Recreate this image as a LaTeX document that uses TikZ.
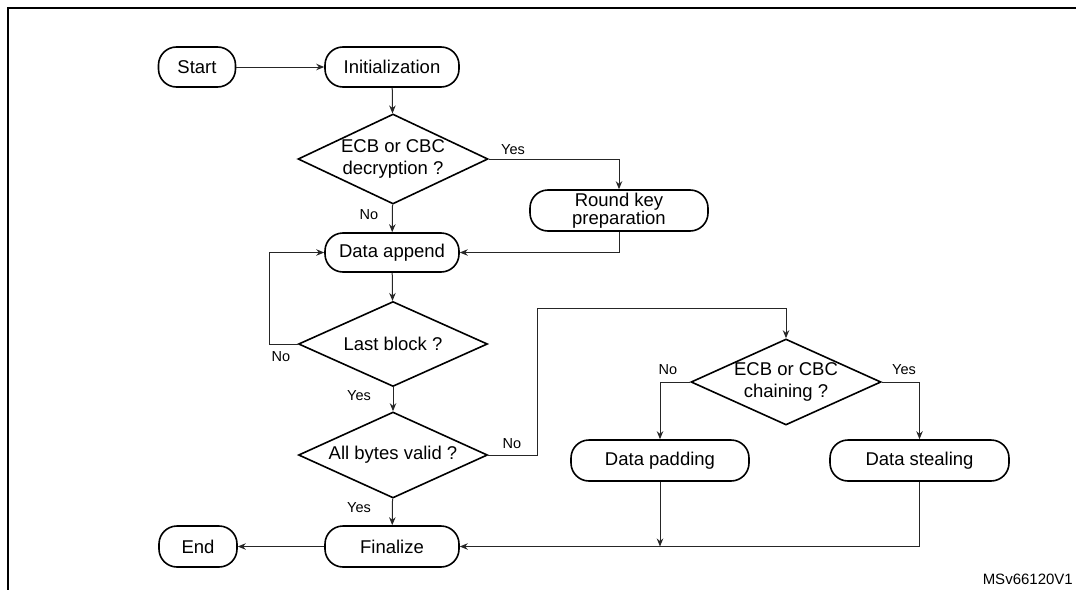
\documentclass[tikz,border=0pt]{standalone}
\usepackage{fontspec}
\setmainfont{Liberation Sans}
\usetikzlibrary{shapes.geometric,arrows.meta}
\tikzset{
  box/.style={draw=black, line width=1.6pt, rounded corners=18pt, inner sep=0pt,
    align=center, font=\fontsize{18.5}{16.5}\selectfont},
  dia/.style={draw=black, line width=1.6pt, diamond, aspect=2.2, inner sep=0pt,
    minimum width=190pt, minimum height=86pt, align=center,
    font=\fontsize{18.5}{21.5}\selectfont},
  conn/.style={draw=black!85, line width=1pt},
  arr/.style={conn, -{Stealth[length=8pt,width=6.5pt]}},
  lbl/.style={inner sep=0pt, font=\fontsize{14.5}{16}\selectfont},
}
\begin{document}
\begin{tikzpicture}[x=1pt,y=-1pt]
\useasboundingbox (0,0) rectangle (1076,589);
% frame
\draw[line width=2.4pt] (8,600) -- (8,8) -- (1090,8);
% nodes
\node[box, minimum width=77pt, minimum height=40pt] (start) at (197,67) {Start};
\node[box, minimum width=134pt, minimum height=40pt] (init) at (392,67) {Initialization};
\node[dia, minimum height=90pt] (d1) at (393,159) {ECB or CBC\\decryption ?};
\node[box, minimum width=178pt, minimum height=41pt] (rk) at (619,210.5) {Round key\\preparation};
\node[box, minimum width=134pt, minimum height=39pt] (da) at (392,252.5) {Data append};
\node[dia, minimum width=189pt, minimum height=85pt] (lb) at (393,344) {Last block ?};
\node[dia, minimum width=189pt] (ab) at (393,455) {All bytes valid ?};
\node[dia] (cc) at (786,382) {ECB or CBC\\chaining ?};
\node[box, minimum width=178pt, minimum height=41pt] (dp) at (660,460.5) {Data padding};
\node[box, minimum width=179pt, minimum height=41pt] (ds) at (919.5,460.5) {Data stealing};
\node[box, minimum width=134pt, minimum height=41pt] (fn) at (392,546.5) {Finalize};
\node[box, minimum width=78pt, minimum height=41pt] (end) at (198,546.5) {End};
% labels
\node[lbl] (l1) at (513,150) {Yes};
\node[lbl] (l2) at (369,215) {No};
\node[lbl] (l3) at (281,357) {No};
\node[lbl] (l4) at (359,396) {Yes};
\node[lbl] (l5) at (512,444) {No};
\node[lbl] (l6) at (359,508) {Yes};
\node[lbl] (l7) at (668,370) {No};
\node[lbl] (l8) at (904,370) {Yes};
\node[anchor=base east, inner sep=0pt, font=\fontsize{15}{17}\selectfont] (ref) at (1073,584) {MSv66120V1};
% connectors
\coordinate (loop) at (269,344);
\coordinate (j1) at (537,308);
\draw[arr] (start) -- (init);
\draw[arr] (init) -- (d1);
\draw[arr] (d1.east) -| (rk.north);
\draw[arr] (d1) -- (da);
\draw[arr] (rk.south) |- (da.east);
\draw[arr] (da) -- (lb);
\draw[arr] (lb.west) -- (loop) |- (da.west);
\draw[arr] (lb) -- (ab);
\draw[arr] (ab.east) -| (j1) -| (cc.north);
\draw[arr] (cc.west) -| (dp.north);
\draw[arr] (cc.east) -| (ds.north);
\draw[arr] (dp.south) -- (dp.south |- fn.east);
\draw[arr] (ds.south) |- (fn.east);
\draw[arr] (ab) -- (fn);
\draw[arr] (fn) -- (end);
\end{tikzpicture}
\end{document}
